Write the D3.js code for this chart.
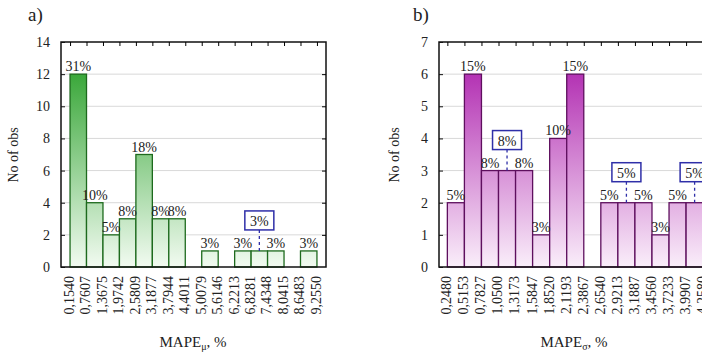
<!DOCTYPE html>
<html>
<head>
<meta charset="utf-8">
<script src="https://cdn.jsdelivr.net/npm/d3@7"></script>
<style>
  body { margin: 0; background: #fff; }
  svg { display: block; }
</style>
</head>
<body>
<svg id="chart" width="702" height="356"></svg>
<script>
// panel a) MAPE mu
var edgesA = ["0,1540", "0,7607", "1,3675", "1,9742", "2,5809", "3,1877", "3,7944", "4,4011",
  "5,0079", "5,6146", "6,2213", "6,8281", "7,4348", "8,0415", "8,6483", "9,2550"];
var countsA = [12, 4, 2, 3, 7, 3, 3, 0, 1, 0, 1, 1, 1, 0, 1];
var boxedA = [11];
var yTicksA = [0, 2, 4, 6, 8, 10, 12, 14];

// panel b) MAPE sigma
var edgesB = ["0,2480", "0,5153", "0,7827", "1,0500", "1,3173", "1,5847", "1,8520", "2,1193",
  "2,3867", "2,6540", "2,9213", "3,1887", "3,4560", "3,7233", "3,9907", "4,2580"];
var countsB = [2, 6, 3, 3, 3, 1, 4, 6, 0, 2, 2, 2, 1, 2, 2];
var boxedB = [3, 10, 14];
var yTicksB = [0, 1, 2, 3, 4, 5, 6, 7];

var FONT = "'Liberation Serif', 'DejaVu Serif', 'Times New Roman', serif";
var INK = "#222";

var svg = d3.select("#chart")
  .attr("font-family", FONT);
var defs = svg.append("defs");

function translate(x, y) {
  return "translate(" + x + "," + y + ")";
}

function label(sel, size) {
  return sel.attr("font-family", FONT).attr("font-size", size).attr("fill", INK);
}

function makeGradient(id, top, bottom, y0, y1) {
  var g = defs.append("linearGradient")
    .attr("id", id)
    .attr("gradientUnits", "userSpaceOnUse")
    .attr("x1", 0).attr("x2", 0)
    .attr("y1", y0).attr("y2", y1);
  g.append("stop").attr("offset", "0%").attr("stop-color", top);
  g.append("stop").attr("offset", "100%").attr("stop-color", bottom);
}

var drawHist = function(opt) {
  var total = d3.sum(opt.counts);
  var yMax = d3.max(opt.yTicks);
  var nBins = opt.counts.length;

  var x = d3.scaleLinear()
    .domain([-opt.pad, nBins + opt.pad])
    .range([opt.left, opt.right]);
  var y = d3.scaleLinear()
    .domain([0, yMax])
    .range([opt.bottom, opt.top]);

  makeGradient(opt.id + "-grad", opt.gradTop, opt.gradBottom, y(yMax), y(0));

  var g = svg.append("g");

  // grid
  g.selectAll(".grid")
    .data(opt.yTicks.filter(function(t) { return t > 0 && t < yMax; }))
    .enter().append("line")
    .attr("x1", opt.left).attr("x2", opt.right)
    .attr("y1", function(d) { return y(d); })
    .attr("y2", function(d) { return y(d); })
    .attr("stroke", "#d9d9d9")
    .attr("stroke-width", 1);

  // bars
  var bins = opt.counts.map(function(c, i) { return { i: i, value: c }; });
  g.selectAll(".bar")
    .data(bins.filter(function(d) { return d.value > 0; }))
    .enter().append("rect")
    .attr("class", "bar")
    .attr("x", function(d) { return x(d.i); })
    .attr("width", function(d) { return x(d.i + 1) - x(d.i); })
    .attr("y", function(d) { return y(d.value); })
    .attr("height", function(d) { return y(0) - y(d.value); })
    .attr("fill", "url(#" + opt.id + "-grad)")
    .attr("stroke", opt.stroke)
    .attr("stroke-width", 1.3);

  // percent labels
  var pct = function(d) { return Math.round(d.value / total * 100) + "%"; };
  label(g.selectAll(".pct")
    .data(bins.filter(function(d) { return d.value > 0 && opt.boxed.indexOf(d.i) < 0; }))
    .enter().append("text"), 14)
    .attr("x", function(d) { return x(d.i + 0.5); })
    .attr("y", function(d) { return y(d.value) - 3; })
    .attr("text-anchor", "middle")
    .text(pct);

  // boxed labels
  var boxes = g.selectAll(".box")
    .data(bins.filter(function(d) { return opt.boxed.indexOf(d.i) >= 0; }))
    .enter().append("g")
    .attr("transform", function(d) { return translate(x(d.i + 0.5), y(d.value)); });
  boxes.append("line")
    .attr("x1", 0).attr("x2", 0)
    .attr("y1", 0).attr("y2", -21)
    .attr("stroke", "#2f2fa8")
    .attr("stroke-width", 1.3)
    .attr("stroke-dasharray", "3,3");
  boxes.append("rect")
    .attr("x", -14.5).attr("y", -40)
    .attr("width", 29).attr("height", 19)
    .attr("fill", "#fff")
    .attr("stroke", "#2f2fa8")
    .attr("stroke-width", 1.5);
  label(boxes.append("text"), 14)
    .attr("x", 0).attr("y", -25)
    .attr("text-anchor", "middle")
    .text(pct);

  // frame
  g.append("rect")
    .attr("x", opt.left).attr("y", opt.top)
    .attr("width", opt.right - opt.left)
    .attr("height", opt.bottom - opt.top)
    .attr("fill", "none")
    .attr("stroke", "#111")
    .attr("stroke-width", 1.5);

  // y axis, ticks inward on both sides
  var yAxis = d3.axisLeft(y).tickValues(opt.yTicks).tickFormat(d3.format("d"))
    .tickSizeInner(-4).tickSizeOuter(0).tickPadding(11);
  var ya = g.append("g").attr("transform", translate(opt.left, 0)).call(yAxis);
  ya.select(".domain").remove();
  label(ya.selectAll("text"), 14);
  ya.selectAll("line").attr("stroke", "#111");

  var yAxisR = d3.axisRight(y).tickValues(opt.yTicks.filter(function(t) { return t > 0 && t < yMax; }))
    .tickSizeInner(-4).tickSizeOuter(0).tickFormat("");
  var yr = g.append("g").attr("transform", translate(opt.right, 0)).call(yAxisR);
  yr.select(".domain").remove();

  // top ticks at bin edges
  var edgeIdx = opt.edges.map(function(e, i) { return i; });
  var xTop = d3.axisTop(x).tickValues(edgeIdx).tickSizeInner(-4).tickSizeOuter(0).tickFormat("");
  var xt = g.append("g").attr("transform", translate(0, opt.top)).call(xTop);
  xt.select(".domain").remove();

  // bottom labels at bin edges
  label(g.selectAll(".edge")
    .data(opt.edges)
    .enter().append("text"), 14)
    .attr("transform", function(d, i) { return translate(x(i) - 1, opt.bottom + 9) + " rotate(-90)"; })
    .attr("text-anchor", "end")
    .attr("dy", "0.35em")
    .text(function(d) { return d; });

  // titles
  label(g.append("text"), 14)
    .attr("transform", translate(opt.yTitleX, 155) + " rotate(-90)")
    .attr("text-anchor", "middle")
    .text("No of obs");

  var xt2 = label(g.append("text"), 15)
    .attr("x", opt.xTitleX)
    .attr("y", 347)
    .attr("text-anchor", "middle");
  xt2.append("tspan").text("MAPE");
  xt2.append("tspan").attr("font-size", 10).attr("dy", 3).text(opt.sub);
  xt2.append("tspan").attr("dy", -3).text(", %");

  label(svg.append("text"), 19)
    .attr("x", opt.tagX).attr("y", 21)
    .text(opt.tag);
};

drawHist({
  id: "a", edges: edgesA, counts: countsA, boxed: boxedA, yTicks: yTicksA,
  left: 61, right: 326, top: 42, bottom: 267, pad: 0.55,
  gradTop: "#1c9a1c", gradBottom: "#f2fbf1", stroke: "#1d6a1d",
  yTitleX: 18, xTitleX: 193, sub: "\u03bc", tag: "a)", tagX: 28
});

drawHist({
  id: "b", edges: edgesB, counts: countsB, boxed: boxedB, yTicks: yTicksB,
  left: 439, right: 711.5, top: 42, bottom: 267, pad: 0.49,
  gradTop: "#a814a8", gradBottom: "#faeefa", stroke: "#5e0f5e",
  yTitleX: 399, xTitleX: 574, sub: "\u03c3", tag: "b)", tagX: 413
});
</script>
</body>
</html>
